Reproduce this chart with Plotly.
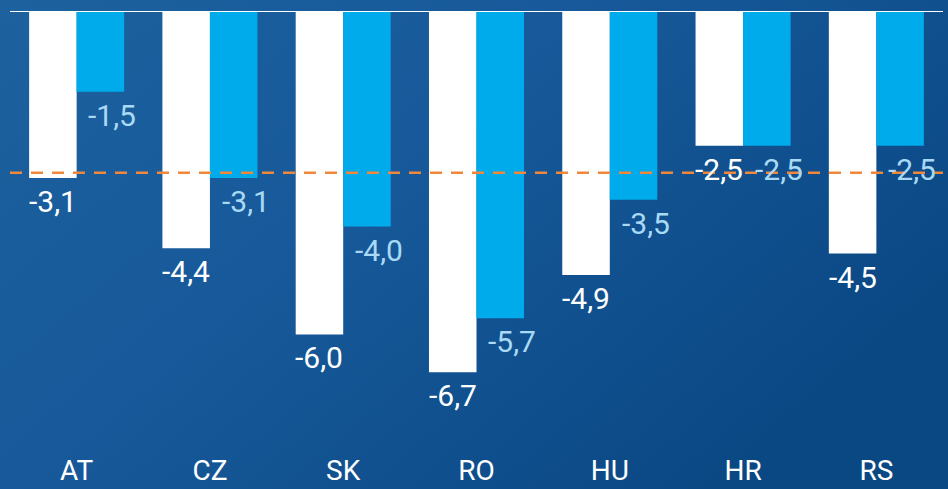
import base64
import plotly.graph_objects as go

categories = ["AT", "CZ", "SK", "RO", "HU", "HR", "RS"]
series_white = [-3.1, -4.4, -6.0, -6.7, -4.9, -2.5, -4.5]
series_blue = [-1.5, -3.1, -4.0, -5.7, -3.5, -2.5, -2.5]
reference_level = -3.0


def fmt(v):
    return f"{v:.1f}".replace(".", ",")


W, H = 948, 489
ML, MR, MT, MB = 10, 5, 11, 32
pw = W - ML - MR
ph = H - MT - MB
BARGAP = 0.287
bar_px = pw / len(categories) * (1 - BARGAP) / 2

svg = f"""<svg xmlns='http://www.w3.org/2000/svg' width='{W}' height='{H}' viewBox='0 0 {W} {H}' preserveAspectRatio='none'>
<defs><linearGradient id='g' x1='0' y1='0' x2='1' y2='0.6'>
<stop offset='0' stop-color='#1d619e'/>
<stop offset='0.45' stop-color='#17599a'/>
<stop offset='1' stop-color='#0a4884'/>
</linearGradient></defs>
<rect width='{W}' height='{H}' fill='url(#g)'/></svg>"""
src = "data:image/svg+xml;base64," + base64.b64encode(svg.encode()).decode()

fig = go.Figure()
fig.add_trace(go.Bar(x=categories, y=series_white, marker_color="#ffffff",
                     marker_line_width=0, hoverinfo="skip"))
fig.add_trace(go.Bar(x=categories, y=series_blue, marker_color="#00abeb",
                     marker_line_width=0, hoverinfo="skip"))

for c, v in zip(categories, series_white):
    fig.add_annotation(x=c, y=v, text=fmt(v), showarrow=False, xanchor="center",
                       yanchor="top", xshift=-bar_px / 2, yshift=-4,
                       font=dict(family="Roboto", size=30, color="#ffffff"))
for c, v in zip(categories, series_blue):
    fig.add_annotation(x=c, y=v, text=fmt(v), showarrow=False, xanchor="center",
                       yanchor="top", xshift=bar_px / 2 + 12, yshift=-4,
                       font=dict(family="Roboto", size=30, color="#a9daf5"))

fig.add_shape(type="line", xref="paper", yref="y", x0=0, x1=1, y0=0, y1=0,
              line=dict(color="#ffffff", width=2), layer="above")
fig.add_shape(type="line", xref="paper", yref="y", x0=0, x1=1,
              y0=reference_level, y1=reference_level,
              line=dict(color="#f0873a", width=2.5, dash="12px,9px"), layer="above")

fig.add_layout_image(dict(
    source=src, xref="paper", yref="paper",
    x=-ML / pw, y=1 + MT / ph, sizex=W / pw, sizey=H / ph,
    sizing="stretch", xanchor="left", yanchor="top", layer="below",
))

fig.update_layout(
    width=W, height=H,
    margin=dict(l=ML, r=MR, t=MT, b=MB, autoexpand=False),
    paper_bgcolor="#145594", plot_bgcolor="rgba(0,0,0,0)",
    barmode="group", bargap=BARGAP, bargroupgap=0,
    showlegend=False,
    xaxis=dict(showgrid=False, zeroline=False, showline=False, ticks="",
               automargin=False, ticklabelstandoff=-6,
               tickfont=dict(family="Roboto", size=28, color="#ffffff"),
               fixedrange=True),
    yaxis=dict(range=[-ph / 53.9, 0], showgrid=False, zeroline=False,
               automargin=False,
               showline=False, showticklabels=False, ticks="", fixedrange=True),
)

fig.write_html("out.html", config={"displayModeBar": False},
               post_script="document.body.style.margin='0';document.body.style.overflow='hidden';")
